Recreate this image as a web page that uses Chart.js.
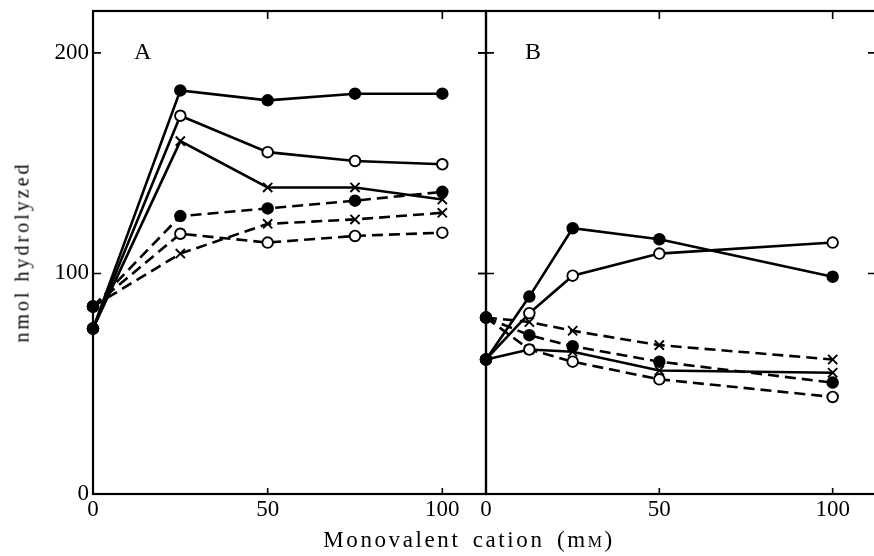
<!DOCTYPE html>
<html>
<head>
<meta charset="utf-8">
<script src="https://cdn.jsdelivr.net/npm/chart.js@4.4.0/dist/chart.umd.min.js"></script>
<style>
  html, body { margin: 0; padding: 0; background: #fff; }
  body { width: 874px; height: 556px; overflow: hidden; position: relative; }
  canvas { position: absolute; top: 0; }
  #chartA { left: 0; }
  #chartB { left: 476px; }
  .ytitle {
    position: absolute; left: 22px; top: 252px;
    transform: translate(-50%, -50%) rotate(-90deg);
    font: 20px "Liberation Serif", serif; letter-spacing: 3px; white-space: nowrap;
  }
  .xtitle {
    position: absolute; left: 469px; top: 527px; transform: translateX(-50%);
    font: 23px "Liberation Serif", serif; letter-spacing: 2.6px; word-spacing: 4px; white-space: nowrap;
  }
  .xtitle span { font-size: 16px; }
</style>
</head>
<body>
<canvas id="chartA" width="496" height="556"></canvas>
<canvas id="chartB" width="410" height="556"></canvas>
<div class="ytitle">nmol hydrolyzed</div>
<div class="xtitle">Monovalent cation (m<span>M</span>)</div>
<script>
// panel A: x = 0, 25, 50, 75, 100 mM
const xA = [0, 25, 50, 75, 100];
const aSolidFilled = [75, 183, 178.5, 181.5, 181.5];
const aSolidOpen = [75, 171.5, 155, 151, 149.5];
const aSolidCross = [75, 160, 139, 139, 133.5];
const aDashFilled = [85, 126, 129.5, 133, 137];
const aDashOpen = [85, 118, 114, 117, 118.5];
const aDashCross = [85, 109, 122.5, 124.5, 127.5];

// panel B: x = 0, 12.5, 25, 50, 100 mM
const xB = [0, 12.5, 25, 50, 100];
const bSolidFilled = [61, 89.5, 120.5, 115.5, 98.5];
const bSolidOpen = [61, 82, 99, 109, 114];
const bSolidCross = [61, 65.5, 64.5, 56, 55];
const bDashFilled = [80, 72, 67, 60, 50.5];
const bDashOpen = [80, 65.5, 60, 52, 44];
const bDashCross = [80, 78, 74, 67.5, 61];

const xTicks = [0, 50, 100];
const yTicks = [0, 100, 200];

const serif = '"Liberation Serif", serif';

function series(xs, ys, kind, dashed) {
    return {
        data: ys.map((y, i) => ({ x: xs[i], y: y })),
        borderColor: "#000",
        borderWidth: 2.6,
        borderDash: dashed ? [11, 6] : [],
        tension: 0,
        clip: false,
        pointStyle: c => (kind === "cross" && c.dataIndex > 0) ? "crossRot" : "circle",
        pointRadius: c => (kind === "cross" && c.dataIndex > 0) ? 6.5 : 5.3,
        pointBackgroundColor: c => (kind === "filled" || c.dataIndex === 0) ? "#000" : "#fff",
        pointBorderColor: "#000",
        pointBorderWidth: 1.9
    };
}

// frame, inward ticks and panel letter
const framePlugin = {
    id: "frame",
    afterDatasetsDraw(chart, args, opts) {
        const ctx = chart.ctx;
        const ca = chart.chartArea;
        const sx = chart.scales.x, sy = chart.scales.y;
        ctx.save();
        ctx.strokeStyle = "#000";
        ctx.lineWidth = 2.2;
        ctx.strokeRect(ca.left, ca.top, ca.right - ca.left, ca.bottom - ca.top);
        ctx.lineWidth = 1.6;
        ctx.beginPath();
        [50, 100].forEach(v => {
            const x = sx.getPixelForValue(v);
            ctx.moveTo(x, ca.top); ctx.lineTo(x, ca.top + 8);
            ctx.moveTo(x, ca.bottom); ctx.lineTo(x, ca.bottom - 6);
        });
        [100, 200].forEach(v => {
            const y = sy.getPixelForValue(v);
            ctx.moveTo(ca.left - opts.leftOut, y); ctx.lineTo(ca.left + 8, y);
            ctx.moveTo(ca.right - 8, y); ctx.lineTo(ca.right, y);
        });
        ctx.stroke();
        ctx.fillStyle = "#000";
        ctx.font = "24px " + serif;
        ctx.textBaseline = "alphabetic";
        ctx.fillText(opts.letter, ca.left + opts.letterX, ca.top + 48);
        ctx.restore();
    }
};

function makeChart(id, datasets, letter, showY, padLeft, letterX) {
    return new Chart(document.getElementById(id), {
        type: "line",
        data: { datasets: datasets },
        options: {
            responsive: false,
            animation: false,
            devicePixelRatio: 1,
            layout: { padding: { left: padLeft, right: 10, top: 11, bottom: 0 } },
            plugins: {
                legend: { display: false },
                tooltip: { enabled: false },
                frame: { letter: letter, leftOut: showY ? 0 : 8, letterX: letterX }
            },
            scales: {
                x: {
                    type: "linear",
                    min: 0,
                    max: 112.5,
                    grid: { display: false, drawTicks: false },
                    border: { display: false },
                    afterBuildTicks: s => { s.ticks = xTicks.map(v => ({ value: v })); },
                    afterFit: s => { s.height = 62; s.paddingLeft = 0; s.paddingRight = 0; },
                    ticks: { color: "#000", padding: 2, maxRotation: 0, font: { family: serif, size: 23 } }
                },
                y: {
                    display: showY,
                    min: 0,
                    max: 219,
                    grid: { display: false, drawTicks: false },
                    border: { display: false },
                    afterBuildTicks: s => { s.ticks = yTicks.map(v => ({ value: v })); },
                    afterFit: s => { s.width = showY ? 93 : 0; s.paddingTop = 0; s.paddingBottom = 0; },
                    ticks: { color: "#000", padding: 4, font: { family: serif, size: 23 } }
                }
            }
        },
        plugins: [framePlugin]
    });
}

makeChart("chartA", [
    series(xA, aSolidOpen, "open", false),
    series(xA, aDashOpen, "open", true),
    series(xA, aSolidFilled, "filled", false),
    series(xA, aDashFilled, "filled", true),
    series(xA, aSolidCross, "cross", false),
    series(xA, aDashCross, "cross", true)
], "A", true, 0, 41);

makeChart("chartB", [
    series(xB, bSolidOpen, "open", false),
    series(xB, bDashOpen, "open", true),
    series(xB, bSolidFilled, "filled", false),
    series(xB, bDashFilled, "filled", true),
    series(xB, bSolidCross, "cross", false),
    series(xB, bDashCross, "cross", true)
], "B", false, 10, 39);
</script>
</body>
</html>
